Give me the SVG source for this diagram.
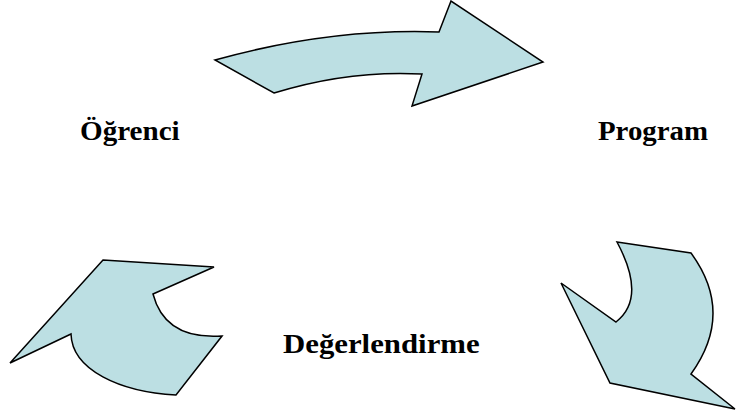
<svg xmlns="http://www.w3.org/2000/svg" width="740" height="419" viewBox="0 0 740 419">
<style>
.arrow{fill:#bcdfe3;stroke:#000;stroke-width:1.5;stroke-linejoin:miter}
</style>
<rect width="740" height="419" fill="#fff"/>
<g id="connectors">
<path id="arrow-top" class="arrow" d="M215,60 Q330,28 439,32 L451,1 L543,62 L412,106 L422,74 Q348,70 274,93 Z"/>
<path id="arrow-right" class="arrow" d="M617,242 L691,253 Q735,313 691,374 L735,409 L610,383 L561,283 L616,322 Q647,298 617,242 Z"/>
<path id="arrow-left" class="arrow" d="M103,260 L214,267 L153,294 Q165,340 222,336 L176,395 C120,392 72,370 71,334 L10,363 Z"/>
</g>
<g id="node-ogrenci"><text font-family="Liberation Serif" font-weight="bold" font-size="28" transform="translate(80,140) scale(1.04,1)">Öğrenci</text></g>
<g id="node-program"><text font-family="Liberation Serif" font-weight="bold" font-size="28" transform="translate(598,140) scale(1.03,1)">Program</text></g>
<g id="node-degerlendirme"><text font-family="Liberation Serif" font-weight="bold" font-size="28" transform="translate(283,353) scale(1.1,1)">Değerlendirme</text></g>
</svg>
